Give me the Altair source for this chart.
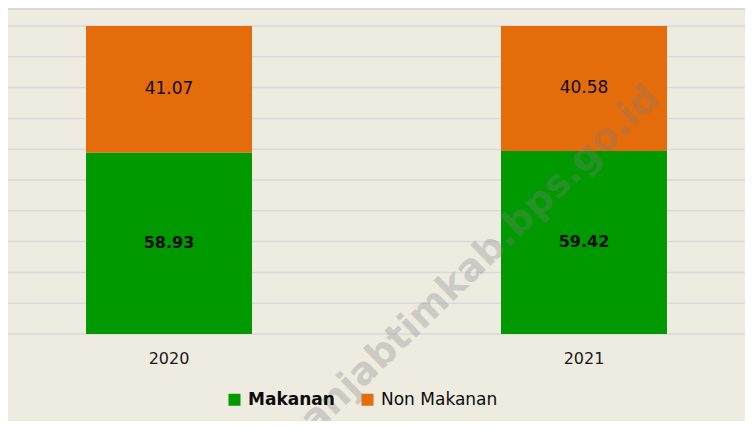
import altair as alt
import pandas as pd

years = ["2020", "2021"]
categories = ["Makanan", "Non Makanan"]
makanan = [58.93, 59.42]
non_makanan = [41.07, 40.58]
grid_values = [0, 10, 20, 30, 40, 50, 60, 70, 80, 90, 100]
watermark_text = ["tanjabtimkab.bps.go.id"]

rows = []
for i, y in enumerate(years):
    rows.append({"year": y, "cat": categories[0], "value": makanan[i], "order": 0})
    rows.append({"year": y, "cat": categories[1], "value": non_makanan[i], "order": 1})
df = pd.DataFrame(rows)
gdf = pd.DataFrame({"g": grid_values})
wm = pd.DataFrame({"t": watermark_text})

FONT = "DejaVu Sans"
xscale = alt.Scale(paddingInner=0.6, paddingOuter=0.188)
yscale = alt.Scale(domain=[0, 100], nice=False)
xaxis = alt.Axis(labelAngle=0, domain=False, ticks=False, labelFontSize=16,
                 labelFont=FONT, labelColor="#1A1A1A", labelPadding=16)
yaxis = alt.Axis(labels=False, ticks=False, domain=False, grid=False)

grid = alt.Chart(gdf).mark_rule(color="#D9D9D9", strokeWidth=1.5).encode(
    y=alt.Y("g:Q", scale=yscale, title=None, axis=yaxis)
)

base = alt.Chart(df)

bars = base.mark_bar().encode(
    x=alt.X("year:N", scale=xscale, title=None, axis=xaxis),
    y=alt.Y("value:Q", stack="zero", scale=yscale, title=None, axis=yaxis),
    color=alt.Color("cat:N",
                    scale=alt.Scale(domain=categories, range=["#009900", "#E46C0A"]),
                    legend=alt.Legend(title=None, orient="none", legendX=218, legendY=365,
                                      direction="horizontal", symbolType="square", symbolSize=144,
                                      symbolStrokeWidth=0, labelFontSize=17, labelFont=FONT,
                                      labelColor="#0D0D0D",
                                      labelFontWeight=alt.ExprRef(expr="datum.label == 'Makanan' ? 'bold' : 'normal'"),
                                      columnPadding=24, labelOffset=5, padding=0)),
    order=alt.Order("order:Q"),
)

stacked = base.transform_stack(
    stack="value", groupby=["year"], as_=["y0", "y1"], sort=[alt.SortField("order")]
).transform_calculate(mid="(datum.y0 + datum.y1) / 2")

text_bold = stacked.transform_filter("datum.cat == 'Makanan'").mark_text(
    fontWeight="bold", fontSize=16, font=FONT, color="#0D0D0D", baseline="middle"
).encode(
    x=alt.X("year:N", scale=xscale, title=None, axis=xaxis),
    y=alt.Y("mid:Q", scale=yscale, title=None, axis=yaxis),
    text=alt.Text("value:Q", format=".2f"),
)

text_norm = stacked.transform_filter("datum.cat == 'Non Makanan'").mark_text(
    fontWeight="normal", fontSize=17, font=FONT, color="#0D0D0D", baseline="middle"
).encode(
    x=alt.X("year:N", scale=xscale, title=None, axis=xaxis),
    y=alt.Y("mid:Q", scale=yscale, title=None, axis=yaxis),
    text=alt.Text("value:Q", format=".2f"),
)

watermark = alt.Chart(wm).mark_text(
    angle=316, fontSize=38, fontWeight="bold", font=FONT, color="#7F7F7F", opacity=0.3,
    align="center", baseline="middle"
).encode(x=alt.value(466), y=alt.value(240), text="t:N")

toprule = alt.Chart(wm).mark_rule(color="#D9D9D9", strokeWidth=2).encode(y=alt.value(-17))

chart = alt.layer(grid, bars, text_norm, text_bold, watermark, toprule).properties(
    width=737, height=308,
    padding={"left": 0, "top": 18, "right": 0, "bottom": 87},
    autosize=alt.AutoSizeParams(type="none"),
).configure(background="#EEECE1").configure_view(strokeWidth=0)

chart.save("out.html", embed_options={"renderer": "svg", "actions": False})
